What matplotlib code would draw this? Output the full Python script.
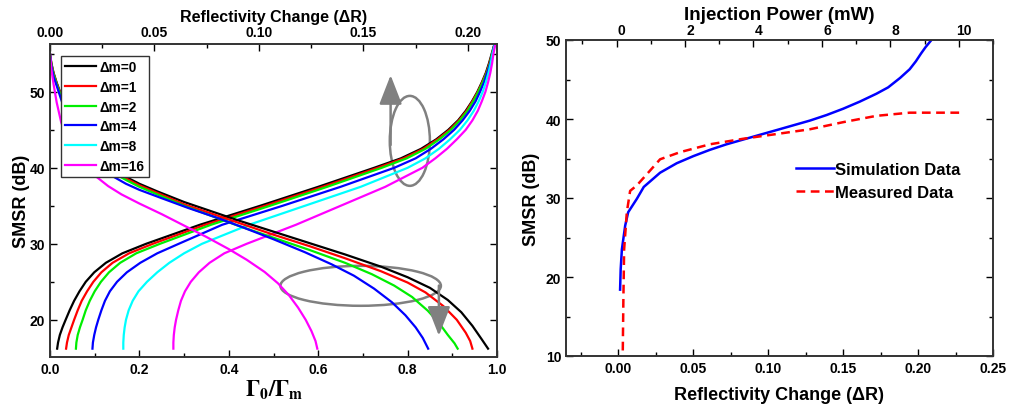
import numpy as np
import matplotlib
matplotlib.use("Agg")
import matplotlib.pyplot as plt
from matplotlib.patches import Ellipse
from matplotlib.ticker import MultipleLocator
import matplotlib.transforms as mtransforms

plt.rcParams['font.family'] = ['Liberation Sans', 'DejaVu Sans']
plt.rcParams['font.weight'] = 'bold'
plt.rcParams['mathtext.fontset'] = 'stix'

# ---------------- Left panel data ----------------
delta_m = ['0', '1', '2', '4', '8', '16']
colors = ['#000000', '#ff0000', '#00ee00', '#0000ff', '#00ffff', '#ff00ff']

# rising curves (Gamma0/Gamma_m position read at fixed SMSR levels)
y_rise = [16.2, 17, 18, 19, 20, 21.25, 22.5, 23.75, 25, 26.25, 27.5, 28.75, 30, 32.5, 35, 37.5,
          40, 41.25, 42.5, 43.75, 45, 46.25, 47.5, 48.75, 50, 51.25, 52.5, 53.75, 55, 56.2]
g_rise_0 = [.016, .018, .022, .028, .035, .044, .054, .066, .080, .099, .125, .162, .215, .335, .470, .600,
            .725, .785, .830, .864, .891, .913, .930, .944, .956, .966, .975, .982, .988, .994]
g_rise_1 = [.036, .038, .042, .048, .054, .062, .071, .083, .097, .115, .140, .177, .230, .347, .481, .610,
            .733, .791, .835, .867, .894, .915, .932, .945, .957, .967, .976, .983, .989, .994]
g_rise_2 = [.058, .059, .062, .067, .073, .080, .089, .100, .114, .132, .157, .193, .246, .360, .492, .620,
            .742, .798, .840, .871, .897, .917, .934, .947, .958, .968, .977, .984, .989, .994]
g_rise_4 = [.095, .096, .099, .103, .108, .115, .123, .134, .150, .172, .202, .240, .288, .385, .520, .650,
            .770, .818, .852, .880, .904, .923, .939, .952, .962, .971, .978, .985, .990, .994]
g_rise_8 = [.164, .164, .165, .167, .170, .176, .185, .198, .217, .240, .267, .300, .340, .445, .570, .695,
            .800, .840, .870, .895, .917, .934, .948, .959, .968, .975, .981, .986, .990, .995]
g_rise_16 = [.276, .276, .277, .279, .282, .287, .293, .302, .315, .333, .357, .390, .440, .550, .650, .750,
             .833, .862, .888, .910, .930, .945, .957, .966, .974, .980, .985, .989, .992, .996]

# falling curves
g_fall_0 = [0, .003, .008, .015, .025, .04, .06, .085, .11, .14, .17, .20, .24, .30, .36, .42, .50, .58,
            .66, .74, .80, .85, .89, .92, .945, .965, .980]
y_fall_0 = [55, 53.8, 52.5, 51.2, 49.6, 47.3, 44.8, 42.6, 41.0, 39.8, 38.8, 37.9, 36.9, 35.5, 34.3, 33.1, 31.6, 30.1,
            28.6, 27.0, 25.6, 24.2, 22.6, 21.0, 19.2, 17.5, 16.2]
g_fall_1 = [0, .003, .008, .015, .025, .04, .06, .085, .11, .14, .17, .20, .24, .30, .36, .42, .50, .58,
            .66, .74, .80, .84, .88, .91, .93, .94, .945]
y_fall_1 = [55, 53.7, 52.4, 51.1, 49.5, 47.1, 44.6, 42.4, 40.8, 39.6, 38.6, 37.7, 36.7, 35.2, 34.0, 32.8, 31.2, 29.7,
            28.1, 26.4, 24.9, 23.6, 21.8, 20.0, 18.3, 17.2, 16.2]
g_fall_2 = [0, .003, .008, .015, .025, .04, .06, .085, .11, .14, .17, .20, .24, .30, .36, .42, .50, .58,
            .66, .72, .77, .81, .845, .87, .89, .905, .912]
y_fall_2 = [55, 53.6, 52.3, 51.0, 49.4, 47.0, 44.4, 42.2, 40.6, 39.4, 38.4, 37.5, 36.5, 35.0, 33.7, 32.4, 30.8, 29.2,
            27.5, 26.0, 24.5, 23.0, 21.2, 19.6, 18.0, 16.9, 16.2]
g_fall_4 = [0, .003, .008, .015, .025, .04, .06, .085, .11, .14, .17, .20, .25, .31, .37, .43, .50, .57,
            .63, .68, .725, .765, .795, .818, .834, .846]
y_fall_4 = [55, 53.4, 52.0, 50.8, 49.0, 46.5, 43.8, 41.6, 40.1, 38.9, 37.9, 37.1, 36.0, 34.7, 33.5, 32.2, 30.6, 28.9,
            27.3, 25.8, 24.1, 22.3, 20.6, 19.0, 17.6, 16.2]
g_fall_16 = [0, .003, .008, .015, .025, .04, .06, .08, .10, .13, .16, .20, .25, .30, .35, .40, .44, .48,
             .51, .535, .555, .572, .585, .594, .598]
y_fall_16 = [55, 53.0, 51.0, 48.6, 46.0, 43.6, 41.6, 40.2, 39.0, 37.6, 36.5, 35.3, 33.9, 32.4, 30.9, 29.3, 27.9, 26.3,
             24.8, 23.2, 21.6, 20.0, 18.5, 17.2, 16.2]

rise_sets = [g_rise_0, g_rise_1, g_rise_2, g_rise_4, g_rise_8, g_rise_16]
fall_sets = {0: (g_fall_0, y_fall_0), 1: (g_fall_1, y_fall_1), 2: (g_fall_2, y_fall_2),
             3: (g_fall_4, y_fall_4), 5: (g_fall_16, y_fall_16)}

left_bottom_ticks = [0.0, 0.2, 0.4, 0.6, 0.8, 1.0]
left_top_ticks = [0.00, 0.05, 0.10, 0.15, 0.20]

# ---------------- Right panel data ----------------
sim_x = [0.0011, 0.0015, 0.0023, 0.0045, 0.0065, 0.0123, 0.0169, 0.0278, 0.0389, 0.0500, 0.0611,
         0.0722, 0.0833, 0.0944, 0.1056, 0.1167, 0.1278, 0.1389, 0.1500, 0.1611, 0.1722, 0.1800,
         0.1880, 0.1944, 0.1985, 0.2020, 0.2050, 0.2089]
sim_y = [18.4, 21.0, 23.5, 26.5, 28.2, 29.9, 31.4, 33.2, 34.4, 35.3, 36.1,
         36.8, 37.4, 38.0, 38.6, 39.2, 39.8, 40.5, 41.3, 42.2, 43.2, 44.0,
         45.2, 46.3, 47.3, 48.3, 49.1, 50.0]
meas_x = [0.0029, 0.0033, 0.0038, 0.0056, 0.0078, 0.0123, 0.0189, 0.0278, 0.0411, 0.0611, 0.0833,
          0.1056, 0.1278, 0.1500, 0.1722, 0.1944, 0.2278]
meas_y = [10.7, 17.2, 23.5, 28.2, 30.9, 31.6, 33.0, 34.9, 35.8, 36.8, 37.5,
          38.1, 38.7, 39.6, 40.4, 40.8, 40.8]
right_bottom_ticks = [0.00, 0.05, 0.10, 0.15, 0.20, 0.25]
right_top_ticks = [0, 2, 4, 6, 8, 10]

fig = plt.figure(figsize=(10.09, 4.10), dpi=100)

def style(ax):
    ax.tick_params(which='both', direction='in', width=1.0, labelsize=10)
    ax.tick_params(which='major', length=5)
    ax.tick_params(which='minor', length=3)
    for s in ax.spines.values():
        s.set_linewidth(1.2)
        s.set_color('#333333')

# ---------- Left ----------
ax1 = fig.add_axes([50/1009, 1-358/410, 447/1009, 313/410])
for i, g in enumerate(rise_sets):
    ax1.plot(g, y_rise, color=colors[i], lw=1.6, label='Δm=' + delta_m[i])
for i, (g, y) in fall_sets.items():
    ax1.plot(g, y, color=colors[i], lw=1.6)
ax1.set_xlim(0, 1.0)
ax1.set_ylim(15.1, 56.3)
ax1.set_xticks(left_bottom_ticks)
ax1.xaxis.set_minor_locator(MultipleLocator(0.1))
ax1.yaxis.set_major_locator(MultipleLocator(10))
ax1.yaxis.set_minor_locator(MultipleLocator(5))
ax1.set_xticklabels(['0.0', '0.2', '0.4', '0.6', '0.8', '1.0'])
style(ax1)
ax1.tick_params(right=True, which='both')
ax1.set_ylabel('SMSR (dB)', fontsize=13, fontweight='bold', labelpad=0)
ax1.set_xlabel(r'$\mathbf{\Gamma_{0}/\Gamma_{m}}$', fontsize=16, labelpad=1)

leg = ax1.legend(loc='upper left', bbox_to_anchor=((61-50)/447, (358-57)/313), borderaxespad=0,
                 fancybox=False, edgecolor='#333333', framealpha=1, fontsize=9.8,
                 handlelength=2.3, handletextpad=0.25, labelspacing=0.42, borderpad=0.3)
leg.get_frame().set_linewidth(1.0)

gray = '#808080'
ax1.add_patch(Ellipse((0.805, 43.55), 0.0897, 11.84, fill=False, ec=gray, lw=1.8))
ax1.annotate('', xy=(0.762, 52.2), xytext=(0.762, 43.0),
             arrowprops=dict(arrowstyle='-|>,head_length=0.9,head_width=0.35', color=gray, lw=1.8,
                             mutation_scale=20, shrinkA=0, shrinkB=0))
ax1.add_patch(Ellipse((0.695, 24.47), 0.359, 5.26, fill=False, ec=gray, lw=1.8))
ax1.annotate('', xy=(0.87, 17.9), xytext=(0.87, 24.5),
             arrowprops=dict(arrowstyle='-|>,head_length=0.9,head_width=0.35', color=gray, lw=1.8,
                             mutation_scale=20, shrinkA=0, shrinkB=0))

ax1t = ax1.twiny()
ax1t.set_xlim(0, 0.214)
ax1t.set_xticks(left_top_ticks)
ax1t.set_xticklabels(['%.2f' % v for v in left_top_ticks])
ax1t.xaxis.set_minor_locator(MultipleLocator(0.025))
style(ax1t)
ax1t.set_xlabel('Reflectivity Change (ΔR)', fontsize=11.5, fontweight='bold', labelpad=3)

# ---------- Right ----------
ax2 = fig.add_axes([566/1009, 1-357/410, 427/1009, 316/410])
ax2.plot(sim_x, sim_y, color='#0000ff', lw=1.8, label='Simulation Data')
ax2.plot(meas_x, meas_y, color='#ff0000', lw=1.8, ls=(0, (3.5, 2.2)), label='Measured Data')
ax2.set_xlim(-0.035, 0.25)
ax2.set_ylim(10, 50)
ax2.set_xticks(right_bottom_ticks)
ax2.set_xticklabels(['%.2f' % v for v in right_bottom_ticks])
ax2.xaxis.set_minor_locator(MultipleLocator(0.025))
ax2.yaxis.set_major_locator(MultipleLocator(10))
ax2.yaxis.set_minor_locator(MultipleLocator(5))
style(ax2)
ax2.tick_params(right=True, which='both')
ax2.set_ylabel('SMSR (dB)', fontsize=13, fontweight='bold', labelpad=4)
ax2.set_xlabel('Reflectivity Change (ΔR)', fontsize=13, fontweight='bold', labelpad=8)
leg2 = ax2.legend(loc='upper left', bbox_to_anchor=((789-566)/427, (357-156)/316), borderaxespad=0,
                  frameon=False, fontsize=12, handlelength=2.3, handletextpad=0.05, labelspacing=0.5)

ax2t = ax2.twiny()
ax2t.set_xlim(-1.48, 11.0)
ax2t.set_xticks(right_top_ticks)
ax2t.set_xticklabels([str(v) for v in right_top_ticks])
ax2t.xaxis.set_minor_locator(MultipleLocator(1))
style(ax2t)
ax2t.tick_params(pad=2)
ax2t.set_xlabel('Injection Power (mW)', fontsize=13.5, fontweight='bold', labelpad=3)
off = mtransforms.ScaledTranslation(5/100, 0, fig.dpi_scale_trans)
for lab in ax2t.get_xticklabels():
    lab.set_transform(lab.get_transform() + off)

fig.savefig('out.png', dpi=100)
